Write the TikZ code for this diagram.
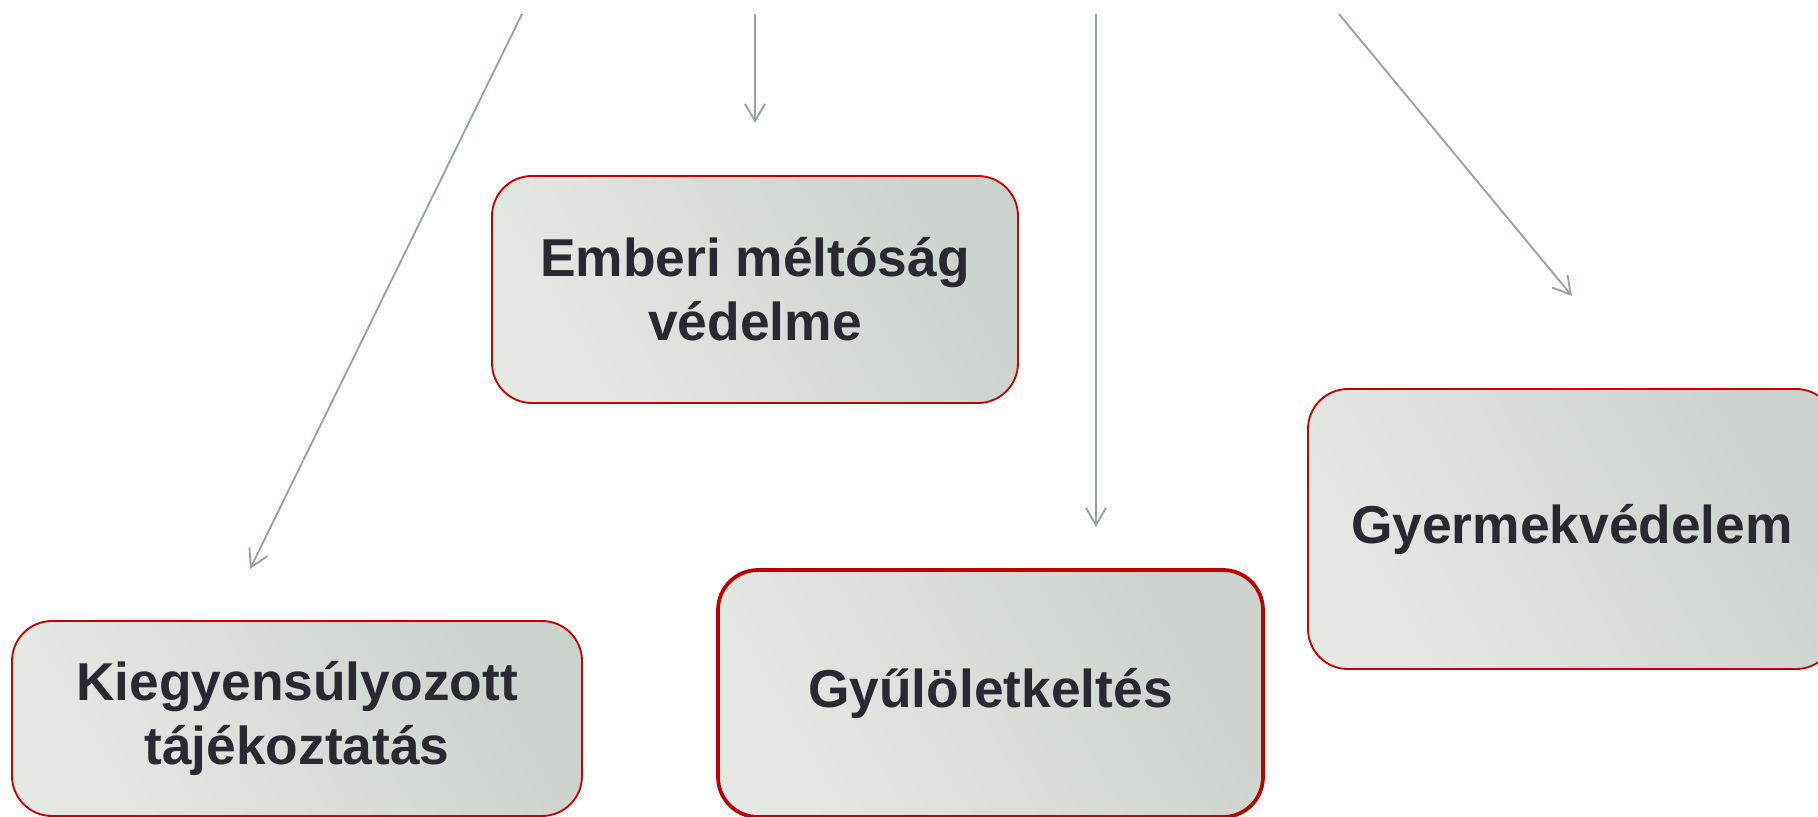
\documentclass[tikz,border=0pt]{standalone}
\usepackage{fontspec}
\setmainfont{Liberation Sans}
\usetikzlibrary{arrows.meta}
\definecolor{boxred}{HTML}{CC0000}
\definecolor{boxdeep}{HTML}{BE0000}
\definecolor{boxlight}{HTML}{E5E9E4}
\definecolor{boxdark}{HTML}{CCD2CC}
\definecolor{boxtext}{HTML}{292933}
\definecolor{arrowgray}{HTML}{96A49F}
\tikzset{
  topic/.style={rectangle, rounded corners=30pt, draw=boxred, line width=1.4pt,
    left color=boxlight, right color=boxdark, shading angle=120,
    text=boxtext, align=center, inner sep=0pt,
    font=\fontsize{40}{48}\selectfont\bfseries},
  pointer/.style={draw=arrowgray, line width=1.4pt,
    -{Straight Barb[length=13pt,width=15pt,line width=1.4pt]}}
}
\begin{document}
\begin{tikzpicture}[x=0.75pt,y=0.75pt,yscale=-1,xscale=1]
  \useasboundingbox (0,0) rectangle (1818,817);
  \clip (0,0) rectangle (1818,817);
  \node[topic, minimum width=394.5pt, minimum height=170.25pt] (emberi) at (755,289.5) {Emberi méltóság\\védelme};
  \node[topic, minimum width=427.5pt, minimum height=146.25pt] (kiegy) at (297,718.5) {Kiegyensúlyozott\\tájékoztatás};
  \node[topic, draw=boxdeep, line width=2.8pt, minimum width=408.75pt, minimum height=185.25pt] (gyulolet) at (990.5,693.5) {Gyűlöletkeltés};
  \node[topic, minimum width=396pt, minimum height=210pt] (gyermek) at (1572,529) {Gyermekvédelem};
  \coordinate (s1) at (522,14);
  \coordinate (e1) at (250,569);
  \coordinate (s2) at (755,14);
  \coordinate (e2) at (755,123);
  \coordinate (s3) at (1096,14);
  \coordinate (e3) at (1096,527);
  \coordinate (s4) at (1339,14);
  \coordinate (e4) at (1572,296);
  \draw[pointer] (s1) -- (e1);
  \draw[pointer] (s2) -- (e2);
  \draw[pointer] (s3) -- (e3);
  \draw[pointer] (s4) -- (e4);
\end{tikzpicture}
\end{document}
